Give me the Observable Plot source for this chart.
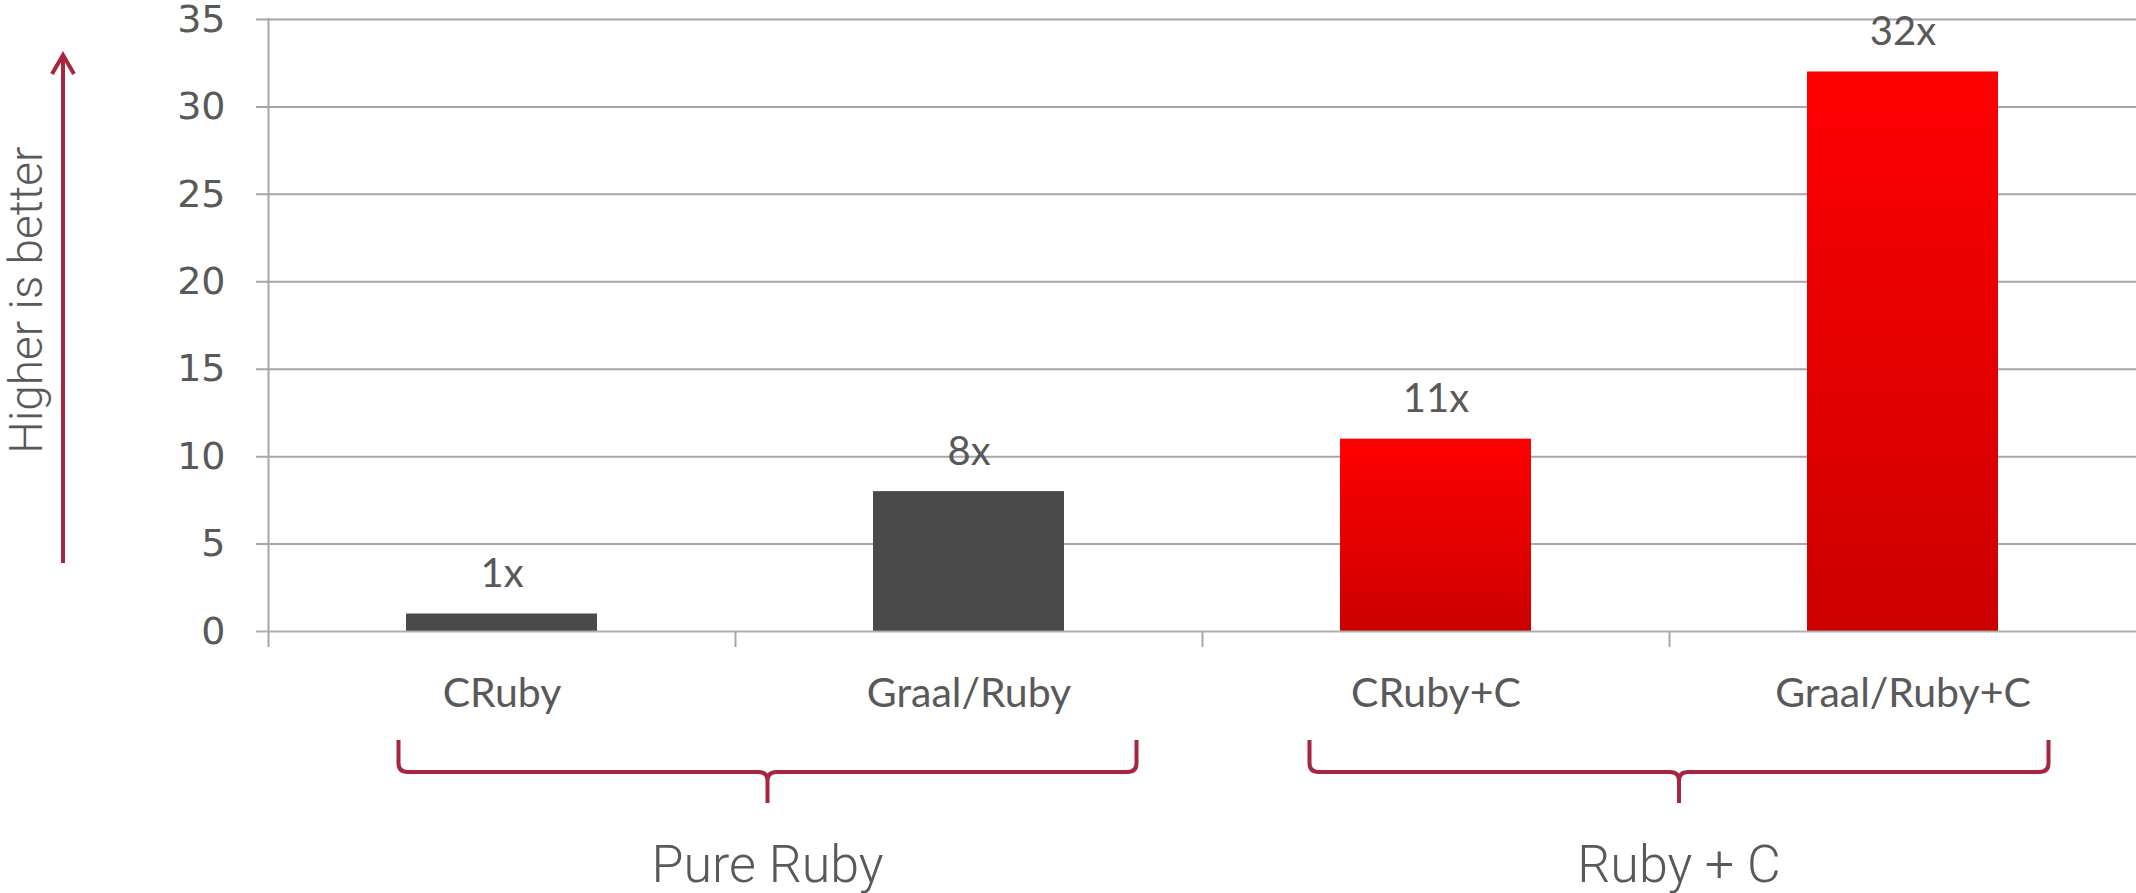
<!DOCTYPE html>
<html><head><meta charset="utf-8">
<script src="https://cdn.jsdelivr.net/npm/d3@7"></script>
<script src="https://cdn.jsdelivr.net/npm/@observablehq/plot@0.6"></script>
<style>html,body{margin:0;padding:0;background:#fff;} #chart svg{display:block;}</style>
</head><body><div id="chart"></div>
<script>
const categories = ["CRuby", "Graal/Ruby", "CRuby+C", "Graal/Ruby+C"];
const speedups = [1, 8, 11, 32];
const valueLabels = ["1x", "8x", "11x", "32x"];
const barKinds = ["pure", "pure", "native", "native"];
const groupNames = ["Pure Ruby", "Ruby + C"];
const groupMembers = [["CRuby", "Graal/Ruby"], ["CRuby+C", "Graal/Ruby+C"]];
const yTicks = [0, 5, 10, 15, 20, 25, 30, 35];
const axisNote = "Higher is better";

// layout
const W = 2136, H = 893, ML = 268, MR = 0, MT = 19, MB = 262;
const step = (W - ML - MR) / categories.length;
const grey = "#595959", grid = "#A6A6A6", accent = "#A6253F";
const braceExt = [[103, 168], [126, 146]];

const rows = categories.map((c, i) => ({category: c, value: speedups[i], label: valueLabels[i], kind: barKinds[i]}));

const chart = Plot.plot({
  width: W, height: H, marginLeft: ML, marginRight: MR, marginTop: MT, marginBottom: MB,
  style: {background: "#fff", color: grey, overflow: "visible"},
  x: {domain: categories, paddingInner: 0.59, paddingOuter: 0.295, label: null},
  y: {domain: [0, 35], label: null},
  marks: [
    Plot.ruleY(yTicks.slice(1), {stroke: grid, strokeWidth: 2, insetLeft: -12}),
    Plot.ruleX([categories[0]], {dx: -step / 2, insetTop: -1, insetBottom: -16, stroke: grid, strokeWidth: 2}),
    Plot.ruleX(categories.slice(1), {dx: -step / 2, y1: 0, y2: 0, insetBottom: -16, stroke: grid, strokeWidth: 2}),
    Plot.barY(rows.filter(d => d.kind === "pure"), {x: "category", y: "value", fill: "#4A4A4A"}),
    Plot.barY(rows.filter(d => d.kind === "native"), {x: "category", y: "value", fill: "url(#redGradient)"}),
    Plot.ruleY([0], {stroke: grid, strokeWidth: 2, insetLeft: -12, strokeOpacity: 0.9}),
    Plot.text(rows, {x: "category", y: "value", text: "label", lineAnchor: "bottom", dy: -27, fontSize: 40, fontFamily: "Lato", fill: grey}),
    Plot.axisY({ticks: yTicks, tickSize: 0, tickPadding: 43, fontSize: 38, fontFamily: "DejaVu Sans", label: null}),
    Plot.axisX({tickSize: 0, tickPadding: 46, fontSize: 41, fontFamily: "Lato", label: null})
  ]
});
document.getElementById("chart").appendChild(chart);

const svg = d3.select(chart);
const defs = svg.insert("defs", ":first-child");
const lg = defs.append("linearGradient").attr("id", "redGradient")
  .attr("x1", 0).attr("y1", 0).attr("x2", 0).attr("y2", 1);
lg.append("stop").attr("offset", "0%").attr("stop-color", "#FF0000");
lg.append("stop").attr("offset", "100%").attr("stop-color", "#CC0000");

const xs = chart.scale("x");
const center = c => xs.apply(c) + xs.bandwidth / 2;

// braces and group labels
const yTop = 740, yLine = 772, yTip = 803, r = 9;
groupNames.forEach((name, gi) => {
  const members = groupMembers[gi];
  const L = center(members[0]) - braceExt[gi][0];
  const R = center(members[members.length - 1]) + braceExt[gi][1];
  const T = (L + R) / 2;
  const p = `M${L},${yTop} L${L},${yLine - r} Q${L},${yLine} ${L + r},${yLine} L${T - r},${yLine} Q${T},${yLine} ${T},${yLine + r} L${T},${yTip}
             M${T},${yLine + r} Q${T},${yLine} ${T + r},${yLine} L${R - r},${yLine} Q${R},${yLine} ${R},${yLine - r} L${R},${yTop}`;
  svg.append("path").attr("d", p).attr("fill", "none").attr("stroke", accent).attr("stroke-width", 4);
  svg.append("text").attr("x", T).attr("y", 882).attr("text-anchor", "middle")
    .attr("font-family", "Roboto").attr("font-weight", 300).attr("font-size", 52).attr("fill", grey).text(name);
});

// arrow and note
svg.append("path").attr("d", "M63,563 L63,55 M52,74 L63,55 L74,74")
  .attr("fill", "none").attr("stroke", accent).attr("stroke-width", 4).attr("stroke-linejoin", "miter");
svg.append("text").attr("transform", "translate(42,300) rotate(-90)").attr("text-anchor", "middle")
  .attr("font-family", "Roboto").attr("font-weight", 300).attr("font-size", 46).attr("fill", grey).text(axisNote);
</script>
</body></html>
